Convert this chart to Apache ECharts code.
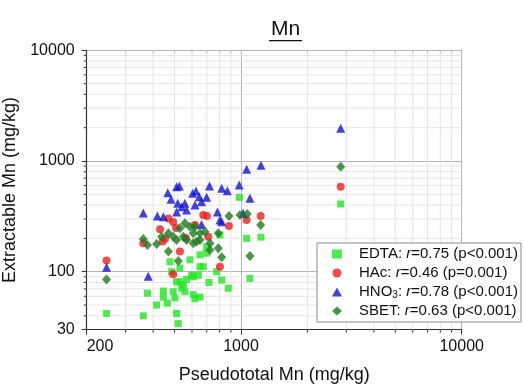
<!DOCTYPE html>
<html>
<head>
<meta charset="utf-8">
<script src="https://cdn.jsdelivr.net/npm/echarts@6/dist/echarts.min.js"></script>
<style>
  html, body { margin: 0; padding: 0; background: #fff; }
  #chart { width: 524px; height: 388px; }
</style>
</head>
<body>
<div id="chart"></div>
<script>
// pseudototal (x) vs extractable (y), mg/kg
const edtaX = [246, 361, 377, 415, 445, 445, 464, 493, 502, 511, 511, 520, 529, 539, 548, 557, 567, 529, 485, 477, 587, 598, 608, 608, 619, 652, 641, 652, 675, 652, 699, 716, 776, 818, 876, 803, 1061, 1232, 1098, 984, 2830, 699];
const edtaY = [42, 40, 64, 50, 67, 59, 52, 66, 58, 81, 42, 34, 81, 71, 76, 66, 85, 108, 100, 123, 128, 93, 62, 90, 57, 59, 93, 111, 111, 142, 168, 80, 100, 84, 71, 215, 200, 205, 87, 470, 409, 147];
const hacX = [246, 361, 430, 453, 469, 493, 508, 529, 493, 563, 619, 675, 701, 711, 803, 882, 1061, 1228, 2830, 442];
const hacY = [126, 181, 242, 200, 303, 281, 248, 152, 95, 202, 264, 325, 319, 207, 111, 259, 293, 319, 586, 187];
const hno3X = [246, 380, 361, 418, 445, 466, 482, 511, 526, 517, 511, 539, 557, 567, 604, 625, 619, 647, 663, 699, 663, 720, 783, 803, 818, 818, 867, 982, 1024, 1061, 1098, 1232, 2830];
const hno3Y = [110, 91, 339, 318, 314, 517, 451, 586, 595, 415, 346, 386, 415, 361, 511, 536, 401, 476, 429, 470, 267, 595, 346, 293, 566, 283, 539, 607, 337, 841, 460, 915, 1973];
const sbetX = [246, 361, 377, 415, 437, 469, 469, 493, 520, 529, 557, 548, 567, 587, 608, 608, 630, 619, 652, 652, 687, 724, 724, 789, 789, 818, 882, 990, 1068, 1228, 1098, 2830, 511];
const sbetY = [85, 197, 174, 178, 207, 152, 222, 207, 125, 247, 274, 207, 193, 255, 222, 181, 187, 255, 193, 222, 230, 181, 157, 222, 163, 135, 319, 325, 332, 264, 139, 888, 193];

const legendNames = ['EDTA', 'HAc', 'HNO3', 'SBET'];
const legendLabels = {
  EDTA: 'EDTA: {i|r}=0.75 (p<0.001)',
  HAc: 'HAc: {i|r}=0.46 (p=0.001)',
  HNO3: 'HNO{sub|3}: {i|r}=0.78 (p<0.001)',
  SBET: 'SBET: {i|r}=0.63 (p<0.001)'
};

// axis range and minor (log) gridline values
const xMin = 200, xMax = 10000;
const yMin = 30, yMax = 10000;
const xMinor = [300, 400, 500, 600, 700, 800, 900, 2000, 3000, 4000, 5000, 6000, 7000, 8000, 9000];
const yMinor = [40, 50, 60, 70, 80, 90, 200, 300, 400, 500, 600, 700, 800, 900, 2000, 3000, 4000, 5000, 6000, 7000, 8000, 9000];

const FONT = "'Liberation Sans', Arial, sans-serif";

function zip(xs, ys) {
  return xs.map((x, i) => [x, ys[i]]);
}

const minorData = xMinor.map(v => [v, yMin, 0]).concat(yMinor.map(v => [xMin, v, 1]));

const chart = echarts.init(document.getElementById('chart'), null, { renderer: 'canvas' });

const option = {
  animation: false,
  backgroundColor: '#fff',
  grid: { left: 86.7, right: 62.3, top: 50.3, bottom: 58.4, containLabel: false, outerBoundsMode: 'none' },
  graphic: [
    {
      type: 'text', x: 285.5, y: 29,
      style: { text: 'Mn', font: '21px ' + FONT, fill: '#111', textAlign: 'center', textVerticalAlign: 'middle', align: 'center', verticalAlign: 'middle' }
    },
    { type: 'rect', shape: { x: 269, y: 40, width: 33, height: 1.3 }, style: { fill: '#111' } }
  ],
  xAxis: {
    type: 'log', logBase: 10, min: xMin, max: xMax,
    name: 'Pseudototal Mn (mg/kg)', nameLocation: 'middle', nameGap: 36,
    nameTextStyle: { fontFamily: FONT, fontSize: 18, color: '#111' },
    axisLine: { lineStyle: { color: '#333', width: 1.2 } },
    axisTick: { show: true, length: 5, lineStyle: { color: '#333' } },
    axisLabel: {
      fontFamily: FONT, fontSize: 16, color: '#111', margin: 9,
      alignMinLabel: 'left',
      formatter: v => String(Math.round(v))
    },
    splitLine: { show: true, lineStyle: { color: '#b4b4b4', width: 1 } }
  },
  yAxis: {
    type: 'log', logBase: 10, min: yMin, max: yMax,
    name: 'Extractable Mn (mg/kg)', nameLocation: 'middle', nameGap: 59, nameRotate: 90,
    nameTextStyle: { fontFamily: FONT, fontSize: 18, color: '#111' },
    axisLine: { lineStyle: { color: '#333', width: 1.2 } },
    axisTick: { show: true, length: 5, lineStyle: { color: '#333' } },
    axisLabel: {
      fontFamily: FONT, fontSize: 16, color: '#111', margin: 12,
      formatter: v => String(Math.round(v))
    },
    splitLine: { show: true, lineStyle: { color: '#b4b4b4', width: 1 } }
  },
  legend: {
    data: legendNames,
    orient: 'vertical',
    left: 317, top: 243,
    padding: [3, 3, 3, 15],
    itemGap: 3,
    itemWidth: 10, itemHeight: 9,
    backgroundColor: '#fff',
    borderColor: '#8a8a8a', borderWidth: 1,
    formatter: name => legendLabels[name],
    textStyle: {
      fontFamily: FONT, fontSize: 15, color: '#111', lineHeight: 16,
      padding: [0, 0, 0, 12],
      rich: {
        i: { fontFamily: FONT, fontSize: 15, fontStyle: 'italic', color: '#111', lineHeight: 16 },
        sub: { fontFamily: FONT, fontSize: 10, color: '#111', lineHeight: 10, padding: [6, 0, 0, 0] }
      }
    }
  },
  series: [
    {
      type: 'custom', name: 'minor', silent: true, z: 1,
      data: minorData,
      encode: { x: 0, y: 1 },
      renderItem: (params, api) => {
        const v = api.value(0), w = api.value(1), f = api.value(2);
        if (f === 0) {
          const a = api.coord([v, yMax]), b = api.coord([v, yMin]);
          return {
            type: 'group', children: [
              { type: 'line', shape: { x1: a[0], y1: a[1], x2: b[0], y2: b[1] }, style: { stroke: '#e4e4e4', lineWidth: 1 } },
              { type: 'line', shape: { x1: b[0], y1: b[1], x2: b[0], y2: b[1] + 3 }, style: { stroke: '#333', lineWidth: 1 } },
              { type: 'line', shape: { x1: a[0], y1: a[1], x2: a[0], y2: a[1] + 3 }, style: { stroke: '#bbb', lineWidth: 1 } }
            ]
          };
        }
        const a = api.coord([xMin, w]), b = api.coord([xMax, w]);
        return {
          type: 'group', children: [
            { type: 'line', shape: { x1: a[0], y1: a[1], x2: b[0], y2: b[1] }, style: { stroke: '#e4e4e4', lineWidth: 1 } },
            { type: 'line', shape: { x1: a[0] - 3, y1: a[1], x2: a[0], y2: a[1] }, style: { stroke: '#333', lineWidth: 1 } }
          ]
        };
      }
    },
    {
      name: 'EDTA', type: 'scatter', z: 2, symbol: 'rect', symbolSize: 7,
      itemStyle: { color: '#22e622' }, data: zip(edtaX, edtaY)
    },
    {
      name: 'HAc', type: 'scatter', z: 3, symbol: 'circle', symbolSize: 8,
      itemStyle: { color: '#ee1e1e' }, data: zip(hacX, hacY)
    },
    {
      name: 'HNO3', type: 'scatter', z: 4, symbol: 'triangle', symbolSize: 9,
      itemStyle: { color: '#1212d8' }, data: zip(hno3X, hno3Y)
    },
    {
      name: 'SBET', type: 'scatter', z: 5, symbol: 'diamond', symbolSize: [9, 10],
      itemStyle: { color: '#1b7a1b' }, data: zip(sbetX, sbetY)
    }
  ]
};

chart.setOption(option);
</script>
</body>
</html>
